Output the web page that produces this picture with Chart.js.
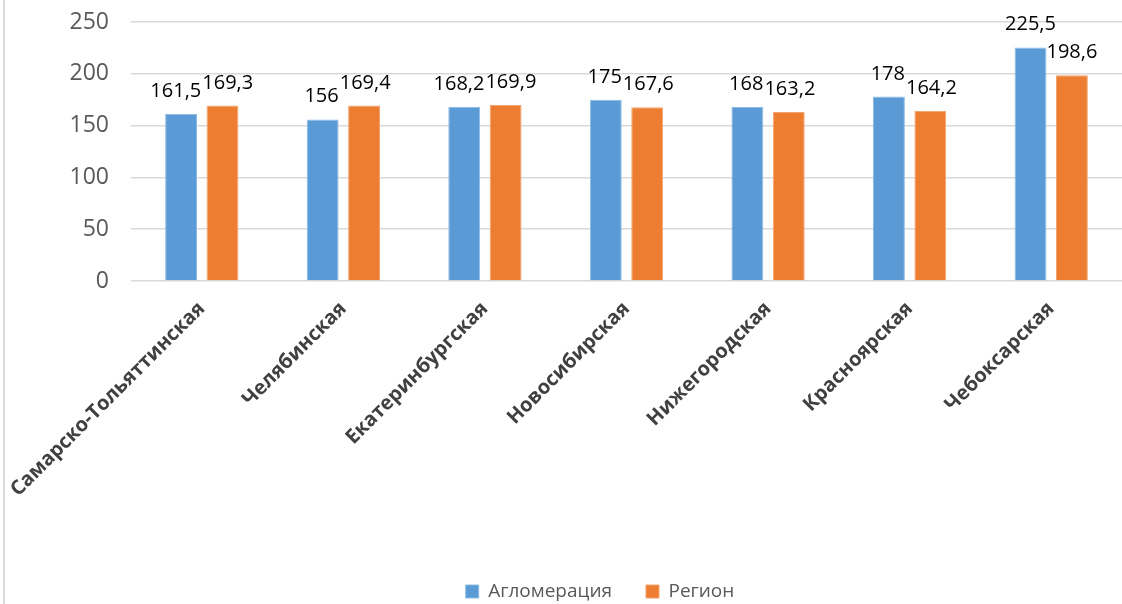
<!DOCTYPE html>
<html>
<head>
<meta charset="utf-8">
<script src="https://cdn.jsdelivr.net/npm/chart.js@4/dist/chart.umd.min.js"></script>
<style>
html,body{margin:0;padding:0;background:#fff;}
#wrap{position:relative;width:1122px;height:604px;overflow:hidden;}
#frame{position:absolute;left:3px;top:0;width:2px;height:604px;background:#d9d9d9;}
canvas{position:absolute;left:0;top:0;}
</style>
</head>
<body>
<div id="wrap"><div id="frame"></div><canvas id="c" width="1122" height="604"></canvas></div>
<script>
const categories = ['Самарско-Тольяттинская','Челябинская','Екатеринбургская','Новосибирская','Нижегородская','Красноярская','Чебоксарская'];
const seriesNames = ['Агломерация','Регион'];
const agglomeration = [161.5, 156, 168.2, 175, 168, 178, 225.5];
const region = [169.3, 169.4, 169.9, 167.6, 163.2, 164.2, 198.6];
const yTicks = [0, 50, 100, 150, 200, 250];

const fmt = v => String(v).replace('.', ',');

const labelPlugin = {
  id: 'valueLabels',
  afterDatasetsDraw(chart) {
    const ctx = chart.ctx;
    ctx.save();
    ctx.font = '20px "Open Sans"';
    ctx.fillStyle = '#000';
    ctx.textAlign = 'center';
    ctx.textBaseline = 'alphabetic';
    const m0 = chart.getDatasetMeta(0), m1 = chart.getDatasetMeta(1);
    const d0 = chart.data.datasets[0].data, d1 = chart.data.datasets[1].data;
    m0.data.forEach((b0, j) => {
      const b1 = m1.data[j];
      const t0 = fmt(d0[j]), t1 = fmt(d1[j]);
      const w0 = ctx.measureText(t0).width, w1 = ctx.measureText(t1).width;
      let x0 = b0.x, x1 = b1.x;
      const y0 = b0.y - 17, y1 = b1.y - 17;
      // nudge apart if labels overlap horizontally and vertically
      const overlap = (x0 + w0 / 2) - (x1 - w1 / 2) + 1;
      if (overlap > 0 && Math.abs(y0 - y1) < 20) {
        x0 -= overlap / 2; x1 += overlap / 2;
      }
      ctx.fillText(t0, x0, y0);
      ctx.fillText(t1, x1, y1);
    });
    ctx.restore();
  }
};

const legendShift = {
  id: 'legendShift',
  afterLayout(chart) {
    if (chart.legend) {
      chart.legend.left = 78;
      chart.legend.top += 7;
    }
  }
};

new Chart(document.getElementById('c'), {
  type: 'bar',
  data: {
    labels: categories,
    datasets: [
      {label: seriesNames[0], data: agglomeration, backgroundColor: '#5B9BD5', borderColor: '#8dbbe6', borderWidth: 1},
      {label: seriesNames[1], data: region, backgroundColor: '#ED7D31', borderColor: '#f3a470', borderWidth: 1}
    ]
  },
  options: {
    responsive: false,
    animation: false,
    categoryPercentage: 0.585,
    barPercentage: 0.77,
    layout: {padding: {left: 0, right: 0, top: 22, bottom: 0}},
    plugins: {
      legend: {
        position: 'bottom',
        labels: {
          font: {family: '"Open Sans"', size: 19},
          color: '#595959',
          boxWidth: 13, boxHeight: 13,
          padding: 34
        }
      },
      tooltip: {enabled: false}
    },
    scales: {
      x: {
        grid: {display: false, drawTicks: false},
        border: {display: false},
        ticks: {
          font: {family: '"Open Sans"', size: 20, weight: 'bold'},
          color: '#404040',
          minRotation: 45, maxRotation: 45,
          padding: 16
        },
        afterFit(scale) { scale.height = 260; scale.paddingLeft = 0; scale.paddingRight = 0; }
      },
      y: {
        min: 0, max: 250,
        afterBuildTicks(scale) { scale.ticks = yTicks.map(v => ({value: v})); },
        grid: {color: '#d9d9d9', lineWidth: 1.5, drawTicks: false},
        border: {display: false},
        ticks: {
          font: {family: '"Open Sans"', size: 23},
          color: '#595959',
          padding: 22
        },
        afterFit(scale) { scale.width = 131; scale.paddingTop = 0; scale.paddingBottom = 0; }
      }
    }
  },
  plugins: [labelPlugin, legendShift]
});
</script>
</body>
</html>
